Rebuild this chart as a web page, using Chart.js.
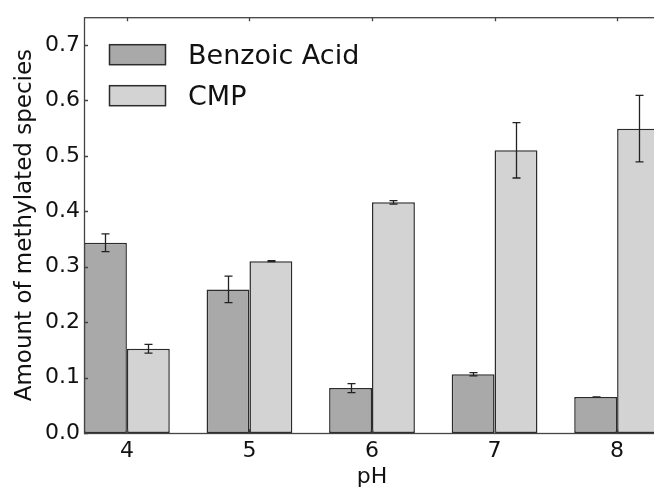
<!DOCTYPE html>
<html>
<head>
<meta charset="utf-8">
<script src="https://cdn.jsdelivr.net/npm/chart.js@4"></script>
<style>
  html, body { margin: 0; padding: 0; background: #fff; overflow: hidden; }
  #wrap { width: 660px; height: 490px; }
</style>
</head>
<body>
<div id="wrap"><canvas id="chart" width="660" height="490"></canvas></div>
<script>
const phValues = [4, 5, 6, 7, 8];
const benzoic = [0.343, 0.259, 0.081, 0.106, 0.065];
const benzoicErr = [0.016, 0.024, 0.008, 0.003, 0.0];
const cmp = [0.152, 0.310, 0.416, 0.510, 0.549];
const cmpErr = [0.008, 0.001, 0.003, 0.050, 0.060];
const yTicks = [0, 0.1, 0.2, 0.3, 0.4, 0.5, 0.6, 0.7];

const FONT = 'DejaVu Sans';
const EDGE = '#2b2b2b';

const toPoints = (vals) => phValues.map((x, i) => ({ x, y: vals[i] }));

// matplotlib-ish frame: spines on top of bars, ticks pointing inward
const framePlugin = {
  id: 'frame',
  afterDatasetsDraw(chart) {
    const { ctx, chartArea: a, scales } = chart;
    ctx.save();
    ctx.strokeStyle = '#444';
    ctx.lineWidth = 1.3;
    ctx.beginPath();
    scales.y.ticks.forEach((t) => {
      const y = Math.round(scales.y.getPixelForValue(t.value)) + 0.5;
      ctx.moveTo(a.left, y); ctx.lineTo(a.left + 4, y);
      ctx.moveTo(a.right, y); ctx.lineTo(a.right - 4, y);
    });
    scales.x.ticks.forEach((t) => {
      const x = Math.round(scales.x.getPixelForValue(t.value)) + 0.5;
      ctx.moveTo(x, a.top); ctx.lineTo(x, a.top + 4);
      ctx.moveTo(x, a.bottom); ctx.lineTo(x, a.bottom - 4);
    });
    ctx.stroke();
    ctx.strokeRect(a.left + 0.5, a.top + 0.5, a.right - a.left, a.bottom - a.top);
    ctx.restore();
  }
};

const errorBarPlugin = {
  id: 'errorBars',
  afterDatasetsDraw(chart) {
    const { ctx, scales } = chart;
    const errs = [benzoicErr, cmpErr];
    ctx.save();
    ctx.strokeStyle = '#222';
    ctx.lineWidth = 1.3;
    chart.data.datasets.forEach((ds, di) => {
      chart.getDatasetMeta(di).data.forEach((bar, i) => {
        const v = ds.data[i].y;
        const e = errs[di][i];
        const x = Math.round(bar.x) + 0.5;
        const yHi = scales.y.getPixelForValue(v + e);
        const yLo = scales.y.getPixelForValue(v - e);
        ctx.beginPath();
        ctx.moveTo(x, yHi); ctx.lineTo(x, yLo);
        ctx.moveTo(x - 4, yHi); ctx.lineTo(x + 4, yHi);
        ctx.moveTo(x - 4, yLo); ctx.lineTo(x + 4, yLo);
        ctx.stroke();
      });
    });
    ctx.restore();
  }
};

const legendPlugin = {
  id: 'insideLegend',
  afterDraw(chart) {
    const { ctx, chartArea: a } = chart;
    ctx.save();
    ctx.font = '27px "' + FONT + '"';
    ctx.textBaseline = 'alphabetic';
    chart.data.datasets.forEach((ds, i) => {
      const bx = a.left + 25;
      const by = a.top + 27 + i * 41;
      ctx.fillStyle = ds.backgroundColor;
      ctx.fillRect(bx, by, 56, 20);
      ctx.strokeStyle = EDGE;
      ctx.lineWidth = 1.5;
      ctx.strokeRect(bx + 0.5, by + 0.5, 56, 20);
      ctx.fillStyle = '#111';
      ctx.fillText(ds.label, bx + 79, by + 20);
    });
    ctx.restore();
  }
};

new Chart(document.getElementById('chart'), {
  type: 'bar',
  data: {
    datasets: [
      { label: 'Benzoic Acid', data: toPoints(benzoic), backgroundColor: '#a9a9a9',
        borderColor: EDGE, borderWidth: 1.5, borderSkipped: false },
      { label: 'CMP', data: toPoints(cmp), backgroundColor: '#d3d3d3',
        borderColor: EDGE, borderWidth: 1.5, borderSkipped: false }
    ]
  },
  options: {
    responsive: false,
    animation: false,
    layout: { padding: { top: 16, left: 0, right: 0, bottom: 0 } },
    datasets: { bar: { categoryPercentage: 0.7, barPercentage: 1.0 } },
    plugins: { legend: { display: false }, tooltip: { enabled: false } },
    scales: {
      x: {
        type: 'linear',
        min: 3.65,
        max: 8.35,
        offset: false,
        afterBuildTicks: (s) => { s.ticks = phValues.map((v) => ({ value: v })); },
        afterFit: (s) => { s.height = 57; },
        grid: { display: false, drawTicks: false, offset: false },
        border: { display: false },
        ticks: { font: { family: FONT, size: 22 }, color: '#111', padding: 5,
          callback: (v) => String(v) },
        title: { display: true, text: 'pH', font: { family: FONT, size: 22 },
          color: '#111', padding: { top: 0, bottom: 0 } }
      },
      y: {
        min: 0,
        max: 0.75,
        afterBuildTicks: (s) => { s.ticks = yTicks.map((v) => ({ value: v })); },
        afterFit: (s) => { s.width = 84; },
        grid: { display: false, drawTicks: false },
        border: { display: false },
        ticks: { font: { family: FONT, size: 22 }, color: '#111', padding: 4,
          callback: (v) => v.toFixed(1) },
        title: { display: true, text: 'Amount of methylated species',
          font: { family: FONT, size: 23 }, color: '#111', padding: { top: 11, bottom: 0 } }
      }
    }
  },
  plugins: [framePlugin, errorBarPlugin, legendPlugin]
});
</script>
</body>
</html>
